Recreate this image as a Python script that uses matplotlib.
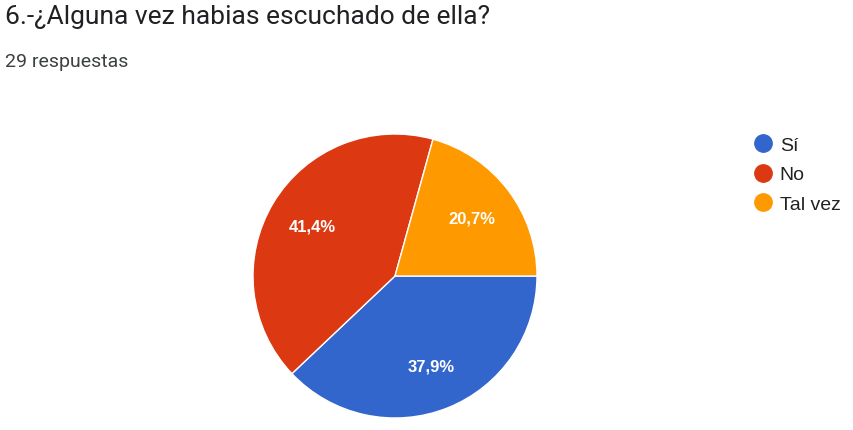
import matplotlib.pyplot as plt
from matplotlib.lines import Line2D

plt.rcParams['font.family'] = ['Roboto', 'DejaVu Sans']

title = '6.-¿Alguna vez habias escuchado de ella?'
subtitle = '29 respuestas'
labels = ['Sí', 'No', 'Tal vez']
counts = [11, 12, 6]
colors = ['#3366CC', '#DC3912', '#FF9900']

W, H = 854, 431
fig = plt.figure(figsize=(W / 100, H / 100), dpi=100)

# pie centred at (395, 277) px, radius 142 px
cx, cy, r = 395, 277, 142
ax = fig.add_axes([(cx - r) / W, (H - cy - r) / H, 2 * r / W, 2 * r / H])

def pct(p):
    return f'{p:.1f}%'.replace('.', ',')

wedges, texts, autotexts = ax.pie(
    counts, colors=colors, startangle=0, counterclock=False,
    autopct=pct, pctdistance=0.68, radius=1,
    wedgeprops=dict(edgecolor='white', linewidth=1),
    textprops=dict(color='white', fontsize=12, family='Liberation Sans',
                   weight='bold'))
ax.set_xlim(-1, 1)
ax.set_ylim(-1, 1)
ax.axis('off')

fig.text(5 / W, 1 - 5 / H, title, fontsize=19, color='#202124', va='top', ha='left')
fig.text(5 / W, 1 - 53 / H, subtitle, fontsize=14, color='#3c4043', va='top', ha='left')

handles = [Line2D([], [], marker='o', linestyle='none', markersize=12.5,
                  markerfacecolor=c, markeredgecolor=c) for c in colors]
fig.legend(handles, labels, loc='upper left', bbox_to_anchor=(734 / W, 1 - 120 / H),
           frameon=False, prop=dict(family='Liberation Sans', size=14),
           labelspacing=0.6, handletextpad=0.25, handlelength=1.2,
           labelcolor='#222222')

fig.savefig('out.png', dpi=100)
